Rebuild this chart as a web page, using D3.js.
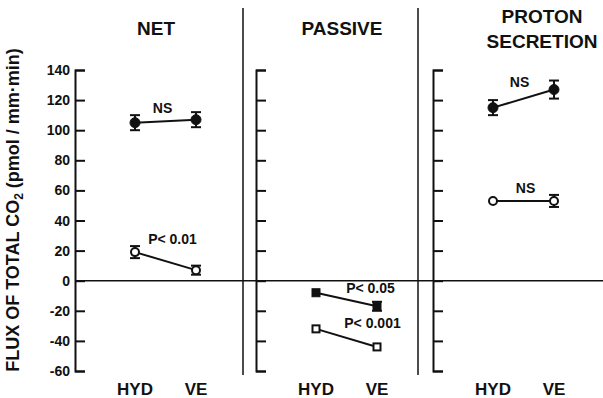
<!DOCTYPE html>
<html>
<head>
<meta charset="utf-8">
<script src="https://cdn.jsdelivr.net/npm/d3@7"></script>
<style>
  body { margin: 0; background: #fff; }
  svg { display: block; }
  text { font-family: "Liberation Sans", Arial, sans-serif; font-weight: bold; fill: #111; }
</style>
</head>
<body>
<script>
// chart data
var panels = ["NET", "PASSIVE", "PROTON SECRETION"];
var conditions = ["HYD", "VE"];
var yTicks = [-60, -40, -20, 0, 20, 40, 60, 80, 100, 120, 140];

// filled symbols (circles in NET / PROTON, squares in PASSIVE)
var filledMeans = [[105, 107], [-8, -17], [115, 127]];
var filledErrs = [[5, 5], [2, 3], [5, 6]];
// open symbols
var openMeans = [[19, 7], [-32, -44], [53, 53]];
var openErrs = [[4, 3], [1, 1], [2, 4]];
var filledLabels = ["NS", "P< 0.05", "NS"];
var openLabels = ["P< 0.01", "P< 0.001", "NS"];

var W = 603, H = 398;
var svg = d3.select("body").append("svg")
    .attr("width", W)
    .attr("height", H);

var y = d3.scaleLinear().domain([-60, 140]).range([371, 70]);
var panelX = d3.scaleOrdinal().domain(panels).range([75, 256, 433]);
var xIn = d3.scalePoint().domain(conditions).range([60, 121]);
function px(p, c) { return panelX(p) + xIn(c); }

// separators
[243, 418].forEach(function (sx) {
    svg.append("line")
        .attr("x1", sx).attr("x2", sx)
        .attr("y1", 8).attr("y2", 375)
        .attr("stroke", "#111").attr("stroke-width", 1.5);
});

// zero line
svg.append("line")
    .attr("x1", 75).attr("x2", W)
    .attr("y1", y(0)).attr("y2", y(0))
    .attr("stroke", "#111").attr("stroke-width", 1.5);

panels.forEach(function (p, i) {
    var g = svg.append("g").attr("transform", "translate(" + panelX(p) + ",0)");
    var ax = d3.axisRight(y).tickValues(yTicks).tickSize(10).tickSizeOuter(10).tickFormat("");
    var axg = g.append("g").call(ax);
    axg.selectAll("path, line").attr("stroke", "#111").attr("stroke-width", 2);
    axg.select(".domain").attr("fill", "none");

    // condition labels
    conditions.forEach(function (c) {
        svg.append("text")
            .attr("x", px(p, c))
            .attr("y", 395)
            .attr("text-anchor", "middle")
            .attr("font-size", 17)
            .text(c);
    });

    var series = [
        { means: filledMeans[i], errs: filledErrs[i], filled: true },
        { means: openMeans[i], errs: openErrs[i], filled: false }
    ];
    series.forEach(function (s) {
        var pts = conditions.map(function (c, j) {
            return { x: px(p, c), y: y(s.means[j]), lo: y(s.means[j] - s.errs[j]), hi: y(s.means[j] + s.errs[j]) };
        });
        svg.append("path")
            .attr("d", d3.line().x(function (d) { return d.x; }).y(function (d) { return d.y; })(pts))
            .attr("stroke", "#111").attr("stroke-width", 2).attr("fill", "none");
        pts.forEach(function (d) {
            if (d.lo - d.hi > 8) {
                svg.append("line").attr("x1", d.x).attr("x2", d.x).attr("y1", d.lo).attr("y2", d.hi)
                    .attr("stroke", "#111").attr("stroke-width", 2);
                [d.lo, d.hi].forEach(function (yy) {
                    svg.append("line").attr("x1", d.x - 5).attr("x2", d.x + 5).attr("y1", yy).attr("y2", yy)
                        .attr("stroke", "#111").attr("stroke-width", 2);
                });
            }
            if (p === "PASSIVE") {
                var sz = s.filled ? 8 : 7;
                svg.append("rect")
                    .attr("x", d.x - sz / 2).attr("y", d.y - sz / 2)
                    .attr("width", sz).attr("height", sz)
                    .attr("fill", s.filled ? "#111" : "#fff")
                    .attr("stroke", "#111").attr("stroke-width", s.filled ? 1 : 2);
            } else {
                svg.append("circle")
                    .attr("cx", d.x).attr("cy", d.y)
                    .attr("r", s.filled ? 5 : 4)
                    .attr("fill", s.filled ? "#111" : "#fff")
                    .attr("stroke", "#111").attr("stroke-width", s.filled ? 1 : 2);
            }
        });
    });
});

// significance labels (placed relative to each line)
var labelOffsets = [
    [[-3, -8], [7, -17]],
    [[24, -7], [26, -10]],
    [[-4, -12], [2, -8]]
];
panels.forEach(function (p, i) {
    [[filledMeans[i], filledLabels[i]], [openMeans[i], openLabels[i]]].forEach(function (s, k) {
        var mx = (px(p, "HYD") + px(p, "VE")) / 2;
        var my = (y(s[0][0]) + y(s[0][1])) / 2;
        svg.append("text")
            .attr("x", mx + labelOffsets[i][k][0])
            .attr("y", my + labelOffsets[i][k][1])
            .attr("text-anchor", "middle")
            .attr("font-size", 14)
            .text(s[1]);
    });
});

// y tick labels
svg.selectAll("text.ytick")
    .data(yTicks)
    .enter()
    .append("text")
    .attr("class", "ytick")
    .attr("x", 70)
    .attr("y", function (d) { return y(d) + 5; })
    .attr("text-anchor", "end")
    .attr("font-size", 14)
    .text(function (d) { return d; });

// panel titles
var titleLines = [["NET"], ["PASSIVE"], ["PROTON", "SECRETION"]];
var titleX = [156, 342, 542];
titleLines.forEach(function (lines, i) {
    var t = svg.append("text")
        .attr("x", titleX[i])
        .attr("y", lines.length > 1 ? 23 : 35)
        .attr("text-anchor", "middle")
        .attr("font-size", 19);
    lines.forEach(function (l, k) {
        t.append("tspan").attr("x", titleX[i]).attr("dy", k ? 25 : 0).text(l);
    });
});

// y axis title
var yt = svg.append("text")
    .attr("transform", "translate(19,210) rotate(-90)")
    .attr("text-anchor", "middle")
    .attr("font-size", 18);
yt.append("tspan").text("FLUX OF TOTAL CO");
yt.append("tspan").attr("font-size", 12).attr("dy", 4).text("2");
yt.append("tspan").attr("dy", -4).text(" (pmol / mm\u00b7min)");
</script>
</body>
</html>
